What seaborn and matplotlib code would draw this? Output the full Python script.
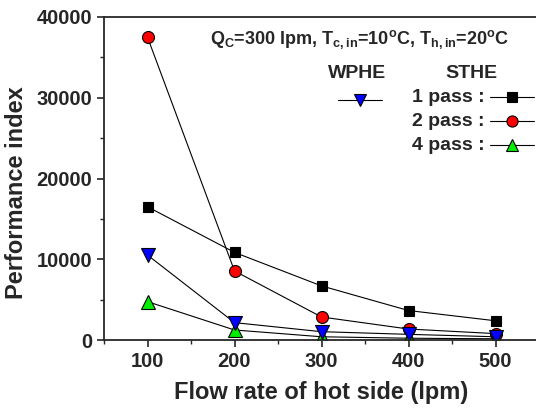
import pandas as pd
import matplotlib.pyplot as plt
import matplotlib.lines as mlines
import seaborn as sns

# data
flow_rate = [100, 200, 300, 400, 500]
sthe_1pass = [16500, 10850, 6700, 3650, 2380]
sthe_2pass = [37500, 8550, 2850, 1360, 790]
sthe_4pass = [4750, 1240, 400, 220, 150]
wphe = [10520, 2150, 1030, 700, 400]

sns.set_style('ticks')
plt.rcParams['font.family'] = ['Liberation Sans', 'DejaVu Sans']
plt.rcParams['font.weight'] = 'bold'
plt.rcParams['mathtext.fontset'] = 'custom'
plt.rcParams['mathtext.rm'] = 'Liberation Sans:bold'
plt.rcParams['mathtext.bf'] = 'Liberation Sans:bold'

fig = plt.figure(figsize=(5.36, 4.09), dpi=100)
ax = fig.add_axes([104 / 536, 69 / 409, 435 / 536, 323 / 409])

df = pd.DataFrame({'flow': flow_rate, 's1': sthe_1pass, 's2': sthe_2pass,
                   's4': sthe_4pass, 'w': wphe})

series = [
    ('s1', 's', 'black', 7.2),
    ('s2', 'o', 'red', 8.6),
    ('s4', '^', '#00ee00', 9.5),
    ('w', 'v', 'blue', 9.5),
]
for col, mk, fc, ms in series:
    sns.lineplot(data=df, x='flow', y=col, ax=ax, color='black', lw=0.8,
                 marker=mk, markersize=ms, markerfacecolor=fc,
                 markeredgecolor='black', markeredgewidth=0.8)

ax.set_xlim(50, 550)
ax.set_ylim(0, 40000)
ax.set_xticks([100, 200, 300, 400, 500])
ax.set_xticks([50, 150, 250, 350, 450, 550], minor=True)
ax.set_yticks([0, 10000, 20000, 30000, 40000])
ax.set_yticks([5000, 15000, 25000, 35000], minor=True)
ax.tick_params(which='major', direction='out', length=5, width=1.2, labelsize=14.5)
ax.tick_params(which='minor', direction='out', length=3, width=1.0)
for lab in ax.get_xticklabels() + ax.get_yticklabels():
    lab.set_fontweight('bold')
for sp in ax.spines.values():
    sp.set_linewidth(1.3)

ax.set_xlabel('Flow rate of hot side (lpm)', fontsize=17, fontweight='bold', labelpad=7)
ax.set_ylabel('Performance index', fontsize=17, fontweight='bold')
ax.yaxis.set_label_coords(-0.175, 0.455)

# annotation and hand-made legend
fig.text(360 / 536, 1 - 40 / 409,
         r'Q$_\mathrm{C}$=300 lpm, T$_\mathrm{c,in}$=10$^\mathrm{o}$C, T$_\mathrm{h,in}$=20$^\mathrm{o}$C',
         ha='center', va='center', fontsize=13, fontweight='bold')
fig.text(357 / 536, 1 - 73 / 409, 'WPHE', ha='center', va='center', fontsize=14, fontweight='bold')
fig.text(471 / 536, 1 - 73 / 409, 'STHE', ha='center', va='center', fontsize=14, fontweight='bold')

def legend_sample(xc, yc, mk, fc, ms):
    y = 1 - yc / 409
    fig.add_artist(mlines.Line2D([(xc - 22) / 536, (xc + 22) / 536], [y, y],
                                 color='black', lw=0.8, transform=fig.transFigure))
    fig.add_artist(mlines.Line2D([xc / 536], [y], marker=mk, markersize=ms,
                                 markerfacecolor=fc, markeredgecolor='black',
                                 markeredgewidth=0.8, transform=fig.transFigure))

legend_sample(360, 100, 'v', 'blue', 9)
for label, yc, mk, fc, ms in [('1 pass :', 97, 's', 'black', 6.5),
                              ('2 pass :', 121, 'o', 'red', 8),
                              ('4 pass :', 145, '^', '#00ee00', 8.5)]:
    fig.text(485 / 536, 1 - yc / 409, label, ha='right', va='center',
             fontsize=14, fontweight='bold')
    legend_sample(512, yc, mk, fc, ms)

fig.savefig('out.png', dpi=100)
